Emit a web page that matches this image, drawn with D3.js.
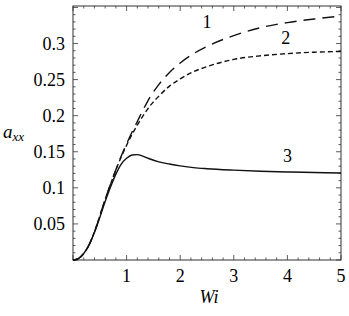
<!DOCTYPE html>
<html>
<head>
<meta charset="utf-8">
<script src="https://cdn.jsdelivr.net/npm/d3@7"></script>
<style>
  body { margin: 0; background: #fff; }
  svg text { font-family: "Liberation Serif", "Times New Roman", serif; }
</style>
</head>
<body>
<div id="chart"></div>
<script>
const wi = [0, 0.1, 0.2, 0.3, 0.4, 0.5, 0.6, 0.7, 0.8, 0.9, 1.0, 1.1, 1.2, 1.3, 1.4, 1.6, 1.8, 2.0, 2.25, 2.5, 3, 3.5, 4, 4.5, 5];
const curve1 = [0, 0.002, 0.009, 0.021, 0.039, 0.061, 0.084, 0.105, 0.125, 0.144, 0.161, 0.177, 0.192, 0.207, 0.221, 0.243, 0.260, 0.273, 0.286, 0.296, 0.311, 0.322, 0.329, 0.334, 0.338];
const curve2 = [0, 0.002, 0.009, 0.021, 0.039, 0.061, 0.084, 0.105, 0.125, 0.143, 0.159, 0.174, 0.187, 0.199, 0.210, 0.227, 0.241, 0.251, 0.261, 0.268, 0.278, 0.283, 0.286, 0.288, 0.289];
const curve3 = [0, 0.002, 0.009, 0.021, 0.038, 0.059, 0.081, 0.101, 0.119, 0.133, 0.141, 0.1455, 0.146, 0.144, 0.141, 0.136, 0.133, 0.1305, 0.128, 0.1265, 0.1245, 0.123, 0.122, 0.1212, 0.1205];
const xTicks = [1, 2, 3, 4, 5];
const yTicks = [0.05, 0.1, 0.15, 0.2, 0.25, 0.3];
const series = [
  { name: "1", values: curve1, dash: "12,7", labelAt: [2.5, 0.322] },
  { name: "2", values: curve2, dash: "5,3", labelAt: [3.97, 0.299] },
  { name: "3", values: curve3, dash: null, labelAt: [4.0, 0.136] }
];

const width = 349;
const height = 316;
const margin = { top: 6, right: 8, bottom: 56, left: 73 };
const innerWidth = width - margin.left - margin.right;
const innerHeight = height - margin.top - margin.bottom;

const svg = d3.select("#chart")
  .append("svg")
  .attr("width", width)
  .attr("height", height)
  .style("background", "#fff");

const x = d3.scaleLinear().domain([0, 5]).range([0, innerWidth]);
const y = d3.scaleLinear().domain([0, 0.352]).range([innerHeight, 0]);

const g = svg.append("g")
  .attr("transform", `translate(${margin.left},${margin.top})`);

const frameColor = "#333";

// frame
g.append("rect")
  .attr("width", innerWidth)
  .attr("height", innerHeight)
  .attr("fill", "none")
  .attr("stroke", frameColor)
  .attr("stroke-width", 1);

// ticks (inward, mirrored on top and right)
const xMinor = d3.range(0, 5.001, 0.2);
const yMinor = d3.range(0, 0.3501, 0.01);
const tickG = g.append("g").attr("stroke", frameColor).attr("stroke-width", 0.8);
xMinor.forEach((v) => {
  const len = Math.abs(v - Math.round(v)) < 1e-6 ? 5 : 2.5;
  tickG.append("line").attr("x1", x(v)).attr("x2", x(v)).attr("y1", innerHeight).attr("y2", innerHeight - len);
  tickG.append("line").attr("x1", x(v)).attr("x2", x(v)).attr("y1", 0).attr("y2", len);
});
yMinor.forEach((v) => {
  const k = Math.round(v * 100);
  const len = k % 5 === 0 ? 5 : 2.5;
  tickG.append("line").attr("y1", y(v)).attr("y2", y(v)).attr("x1", 0).attr("x2", len);
  tickG.append("line").attr("y1", y(v)).attr("y2", y(v)).attr("x1", innerWidth).attr("x2", innerWidth - len);
});

g.selectAll(".xt")
  .data(xTicks)
  .enter()
  .append("text")
  .attr("x", (d) => x(d))
  .attr("y", innerHeight + 22)
  .attr("text-anchor", "middle")
  .attr("font-size", 18)
  .text((d) => d);

g.selectAll(".yt")
  .data(yTicks)
  .enter()
  .append("text")
  .attr("x", -8)
  .attr("y", (d) => y(d))
  .attr("dy", "0.35em")
  .attr("text-anchor", "end")
  .attr("font-size", 18)
  .text((d) => String(d));

// curves
const line = d3.line()
  .x((d) => x(d[0]))
  .y((d) => y(d[1]))
  .curve(d3.curveMonotoneX);

series.forEach((s) => {
  g.append("path")
    .datum(wi.map((w, i) => [w, s.values[i]]))
    .attr("fill", "none")
    .attr("stroke", "#111")
    .attr("stroke-width", 1.4)
    .attr("stroke-dasharray", s.dash)
    .attr("d", line);
  g.append("text")
    .attr("x", x(s.labelAt[0]))
    .attr("y", y(s.labelAt[1]))
    .attr("text-anchor", "middle")
    .attr("font-size", 18)
    .text(s.name);
});

// axis titles
svg.append("text")
  .attr("x", margin.left + innerWidth / 2 + 2)
  .attr("y", height - 13)
  .attr("text-anchor", "middle")
  .attr("font-style", "italic")
  .attr("font-size", 18)
  .text("Wi");

const ylab = svg.append("text")
  .attr("x", 3)
  .attr("y", 138)
  .attr("font-style", "italic")
  .attr("font-size", 19);
ylab.append("tspan").text("a");
ylab.append("tspan").attr("dy", 3).attr("font-size", 13).text("xx");
</script>
</body>
</html>
